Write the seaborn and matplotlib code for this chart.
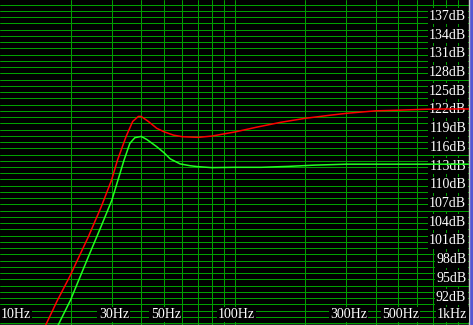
import matplotlib
matplotlib.use("Agg")
import matplotlib.pyplot as plt
import matplotlib.transforms as mtransforms
from matplotlib.ticker import FixedLocator, NullFormatter, NullLocator
import seaborn as sns
import pandas as pd

# ---- data ----
red_freq = [15.5, 17.5, 19.8, 23.8, 27.0, 29.9, 31.7, 34.5, 36.8, 38.9, 40.0,
            42.9, 46.6, 50.0, 55.0, 60.0, 70.0, 80.0, 90.0, 100.0, 125.0,
            157.0, 200.0, 256.0, 300.0, 400.0, 500.0, 650.0, 800.0, 1000.0]
red_db = [87.3, 91.5, 95.4, 101.8, 106.6, 110.9, 114.1, 117.9, 120.3, 121.1, 121.1,
          120.3, 119.2, 118.65, 118.1, 117.85, 117.75, 117.95, 118.3, 118.6, 119.4,
          120.15, 120.8, 121.3, 121.6, 122.0, 122.1, 122.25, 122.3, 122.3]

green_freq = [17.5, 20.0, 23.8, 27.0, 30.0, 33.8, 35.8, 37.6, 40.0, 42.3, 44.5, 46.6,
              50.0, 53.2, 58.6, 64.7, 70.0, 80.0, 100.0, 130.0, 170.0, 220.0,
              300.0, 500.0, 1000.0]
green_db = [87.3, 91.7, 98.6, 103.5, 107.7, 114.1, 116.8, 117.7, 117.9, 117.4, 116.8, 116.25,
            115.3, 114.3, 113.5, 113.2, 113.05, 112.9, 112.95, 112.95, 113.1, 113.3,
            113.45, 113.45, 113.45]

x_tick_values = [10, 30, 50, 100, 300, 500, 1000]
x_tick_labels = ["10Hz", "30Hz", "50Hz", "100Hz", "300Hz", "500Hz", "1kHz"]
y_tick_values = [137, 134, 131, 128, 125, 122, 119, 116, 113, 110, 107, 104, 101, 98, 95, 92]
y_tick_labels = ["137dB", "134dB", "131dB", "128dB", "125dB", "122dB", "119dB", "116dB",
                 "113dB", "110dB", "107dB", "104dB", "101dB", "98dB", "95dB", "92dB"]

x_grid = [20, 30, 40, 50, 60, 70, 80, 90, 100, 200, 300, 400, 500, 600, 700, 800, 900]
y_grid = list(range(88, 140))

# ---- styling ----
sns.set_theme(style="dark")
plt.rcParams['font.family'] = ['Liberation Serif', 'DejaVu Serif']

grid_color = "#00a000"

fig = plt.figure(figsize=(4.73, 3.25), dpi=100, facecolor="#5656d2")
ax = fig.add_axes([0, 0, 469 / 473, 1])
ax.set_facecolor("black")

df = pd.concat([
    pd.DataFrame({"freq": red_freq, "db": red_db, "series": "red"}),
    pd.DataFrame({"freq": green_freq, "db": green_db, "series": "green"}),
], ignore_index=True)

sns.lineplot(data=df, x="freq", y="db", hue="series",
             palette={"red": "#ff0000", "green": "#22ff22"},
             estimator=None, sort=False, legend=False, linewidth=1.1,
             ax=ax, zorder=5)

ax.set_xscale("log")
ax.set_xlim(10, 1000)
ax.set_ylim(87.68, 139.76)

ax.xaxis.set_major_locator(FixedLocator(x_grid))
ax.xaxis.set_minor_locator(NullLocator())
ax.yaxis.set_major_locator(FixedLocator(y_grid))
ax.yaxis.set_minor_locator(NullLocator())
ax.xaxis.set_major_formatter(NullFormatter())
ax.yaxis.set_major_formatter(NullFormatter())
ax.tick_params(length=0)
ax.grid(True, which="major", color=grid_color, linewidth=0.72, linestyle="-")
ax.set_axisbelow(True)
ax.set_xlabel("")
ax.set_ylabel("")

for side in ["top", "left"]:
    ax.spines[side].set_visible(False)
for side in ["right", "bottom"]:
    ax.spines[side].set_visible(True)
    ax.spines[side].set_color("#c8c8c8")
    ax.spines[side].set_linewidth(1.0)

box = dict(facecolor="black", edgecolor="none", pad=1.0)
fs = 10

ytrans = mtransforms.blended_transform_factory(ax.transAxes, ax.transData)
for v, lab in zip(y_tick_values, y_tick_labels):
    ax.text(0.994, v + 0.15, lab, ha="right", va="center", color="white",
            fontsize=fs, bbox=box, transform=ytrans, zorder=3)

xtrans = mtransforms.blended_transform_factory(ax.transData, ax.transAxes)
for i, (v, lab) in enumerate(zip(x_tick_values, x_tick_labels)):
    if i == 0:
        ha, xv = "left", v * 1.003
    elif i == len(x_tick_values) - 1:
        ha, xv = "right", v * 0.985
    else:
        ha, xv = "center", v * 1.02
    ax.text(xv, 0.012, lab, ha=ha, va="bottom", color="white",
            fontsize=fs, bbox=box, transform=xtrans, zorder=3)

fig.savefig("out.png", dpi=100, facecolor=fig.get_facecolor())
